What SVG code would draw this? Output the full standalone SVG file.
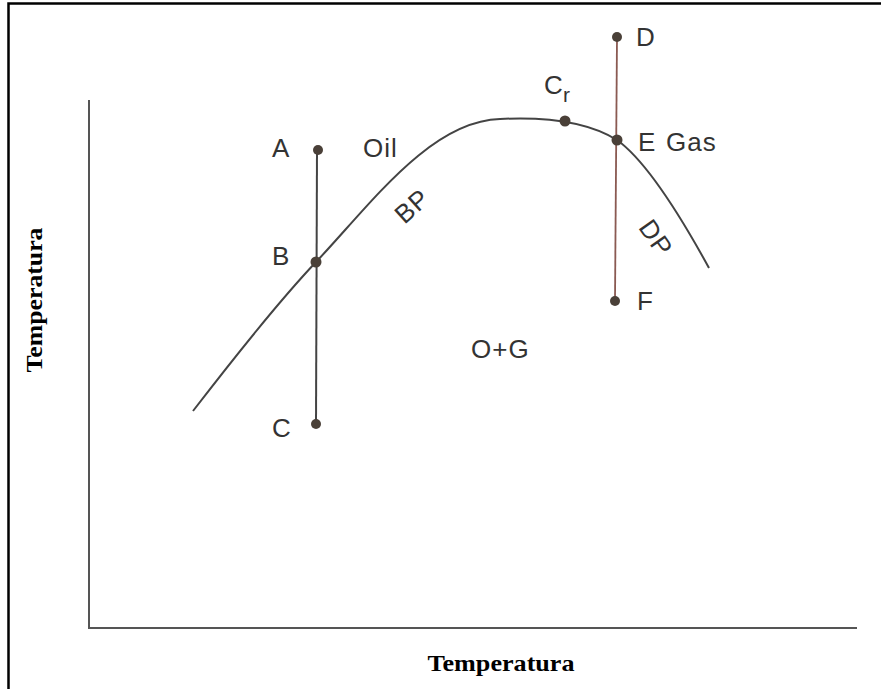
<svg xmlns="http://www.w3.org/2000/svg" width="881" height="689" viewBox="0 0 881 689">
<style>
.lbl{font-family:"Liberation Sans",Arial,sans-serif;font-size:26px;fill:#333;letter-spacing:1px}
.ax{font-family:"Liberation Serif","Times New Roman",serif;font-size:23px;font-weight:bold;fill:#000}
.dot{fill:#4a4038}
</style>
<rect width="881" height="689" fill="#fff"/>
<path d="M8.5,689 V3.5 H881" fill="none" stroke="#000" stroke-width="2.5"/>
<g id="axes" stroke="#555" stroke-width="2" fill="none">
<line x1="89" y1="100" x2="89" y2="628"/>
<line x1="88" y1="628" x2="857" y2="628"/>
</g>
<text class="ax" x="501" y="671" text-anchor="middle" textLength="147" lengthAdjust="spacingAndGlyphs">Temperatura</text>
<text class="ax" transform="translate(42,300) rotate(-90)" text-anchor="middle" textLength="145" lengthAdjust="spacingAndGlyphs">Temperatura</text>
<g id="connectors" fill="none">
<path id="curve" d="M193,411 C240,350 280,300 316,262 C370,205 430,121 500,119 C540,117 585,120 617,140 C645,160 680,215 709,268" stroke="#444" stroke-width="2"/>
<line x1="317" y1="150" x2="316" y2="424" stroke="#444" stroke-width="2"/>
<line x1="617" y1="37" x2="615" y2="301" stroke="#8a5a52" stroke-width="1.8"/>
</g>
<g id="A"><circle class="dot" cx="318" cy="150" r="5"/><text class="lbl" x="272" y="157">A</text></g>
<g id="B"><circle class="dot" cx="316" cy="262" r="5.5"/><text class="lbl" x="272" y="265">B</text></g>
<g id="C"><circle class="dot" cx="316" cy="424" r="5"/><text class="lbl" x="272" y="437">C</text></g>
<g id="Cr"><circle class="dot" cx="565" cy="121" r="5.5"/><text class="lbl" x="544" y="94">C</text><text class="lbl" x="563" y="102" style="font-size:21px">r</text></g>
<g id="D"><circle class="dot" cx="617" cy="37" r="5"/><text class="lbl" x="636" y="46">D</text></g>
<g id="E"><circle class="dot" cx="617" cy="140" r="5.5"/><text class="lbl" x="638" y="151">E</text></g>
<g id="F"><circle class="dot" cx="615" cy="301" r="5"/><text class="lbl" x="637" y="310">F</text></g>
<g id="regions">
<text class="lbl" x="363" y="157">Oil</text>
<text class="lbl" x="666" y="151">Gas</text>
<text class="lbl" x="471" y="358">O+G</text>
<text class="lbl" transform="translate(412,206) rotate(-42)" text-anchor="middle" dy="9">BP</text>
<text class="lbl" transform="translate(656,238) rotate(55)" text-anchor="middle" dy="9">DP</text>
</g>
</svg>
